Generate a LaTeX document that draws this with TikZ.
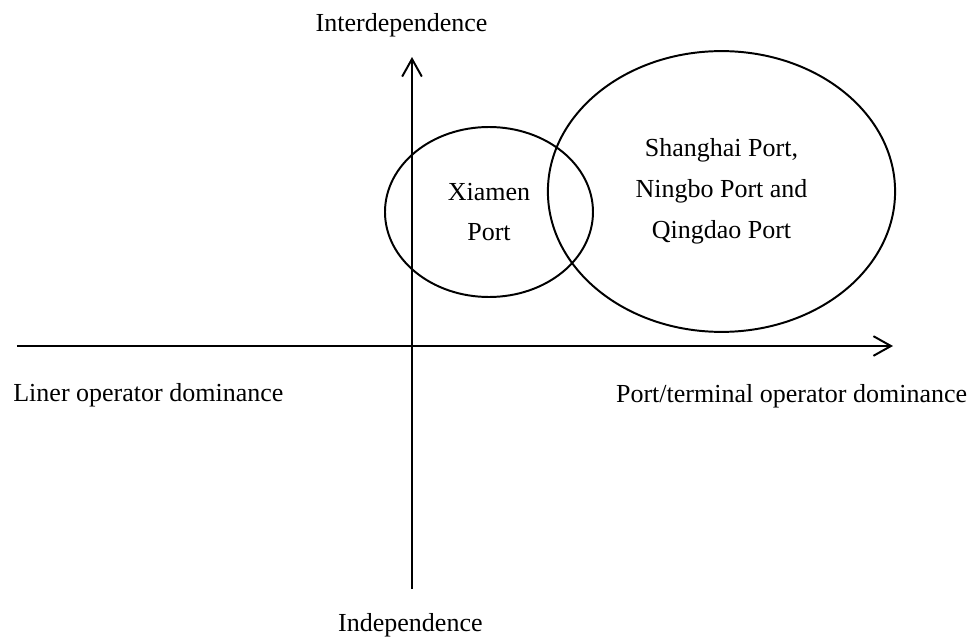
\documentclass[tikz,border=0pt]{standalone}
\usepackage{fontspec}
\setmainfont{Liberation Serif}
\usetikzlibrary{arrows.meta,shapes.geometric}

\begin{document}
\begin{tikzpicture}[
  axis/.style={black, line width=1.4pt, -{Straight Barb[length=12.5pt, width=14pt]}},
  port/.style={draw, black, line width=1.4pt, ellipse, align=center, inner sep=0pt},
  every node/.style={font=\fontsize{18.5}{29}\selectfont}
]
\useasboundingbox (-10.3,-7.275) rectangle (14.05,8.65);
% axes
\coordinate (left) at (-9.875,0);
\coordinate (right) at (12.025,0);
\coordinate (bottom) at (0,-6.075);
\coordinate (top) at (0,7.225);
\draw[axis](left)--(right);
\draw[axis](bottom)--(top);
\node[anchor=base] (inter) at (-0.26,7.85) {Interdependence};
\node[anchor=base] (indep) at (-0.04,-7.125) {Independence};
\node[anchor=base] (liner) at (-6.59,-1.375) {Liner operator dominance};
\node[anchor=base] (terminal) at (9.49,-1.4) {Port/terminal operator dominance};
% ports
\node[port, minimum width=5.2cm, minimum height=4.25cm] (xiamen) at (1.925,3.35) {Xiamen\\Port};
\node[port, minimum width=8.68cm, minimum height=7.02cm] (shanghai) at (7.7375,3.8625) {Shanghai Port,\\Ningbo Port and\\Qingdao Port};
\end{tikzpicture}
\end{document}
